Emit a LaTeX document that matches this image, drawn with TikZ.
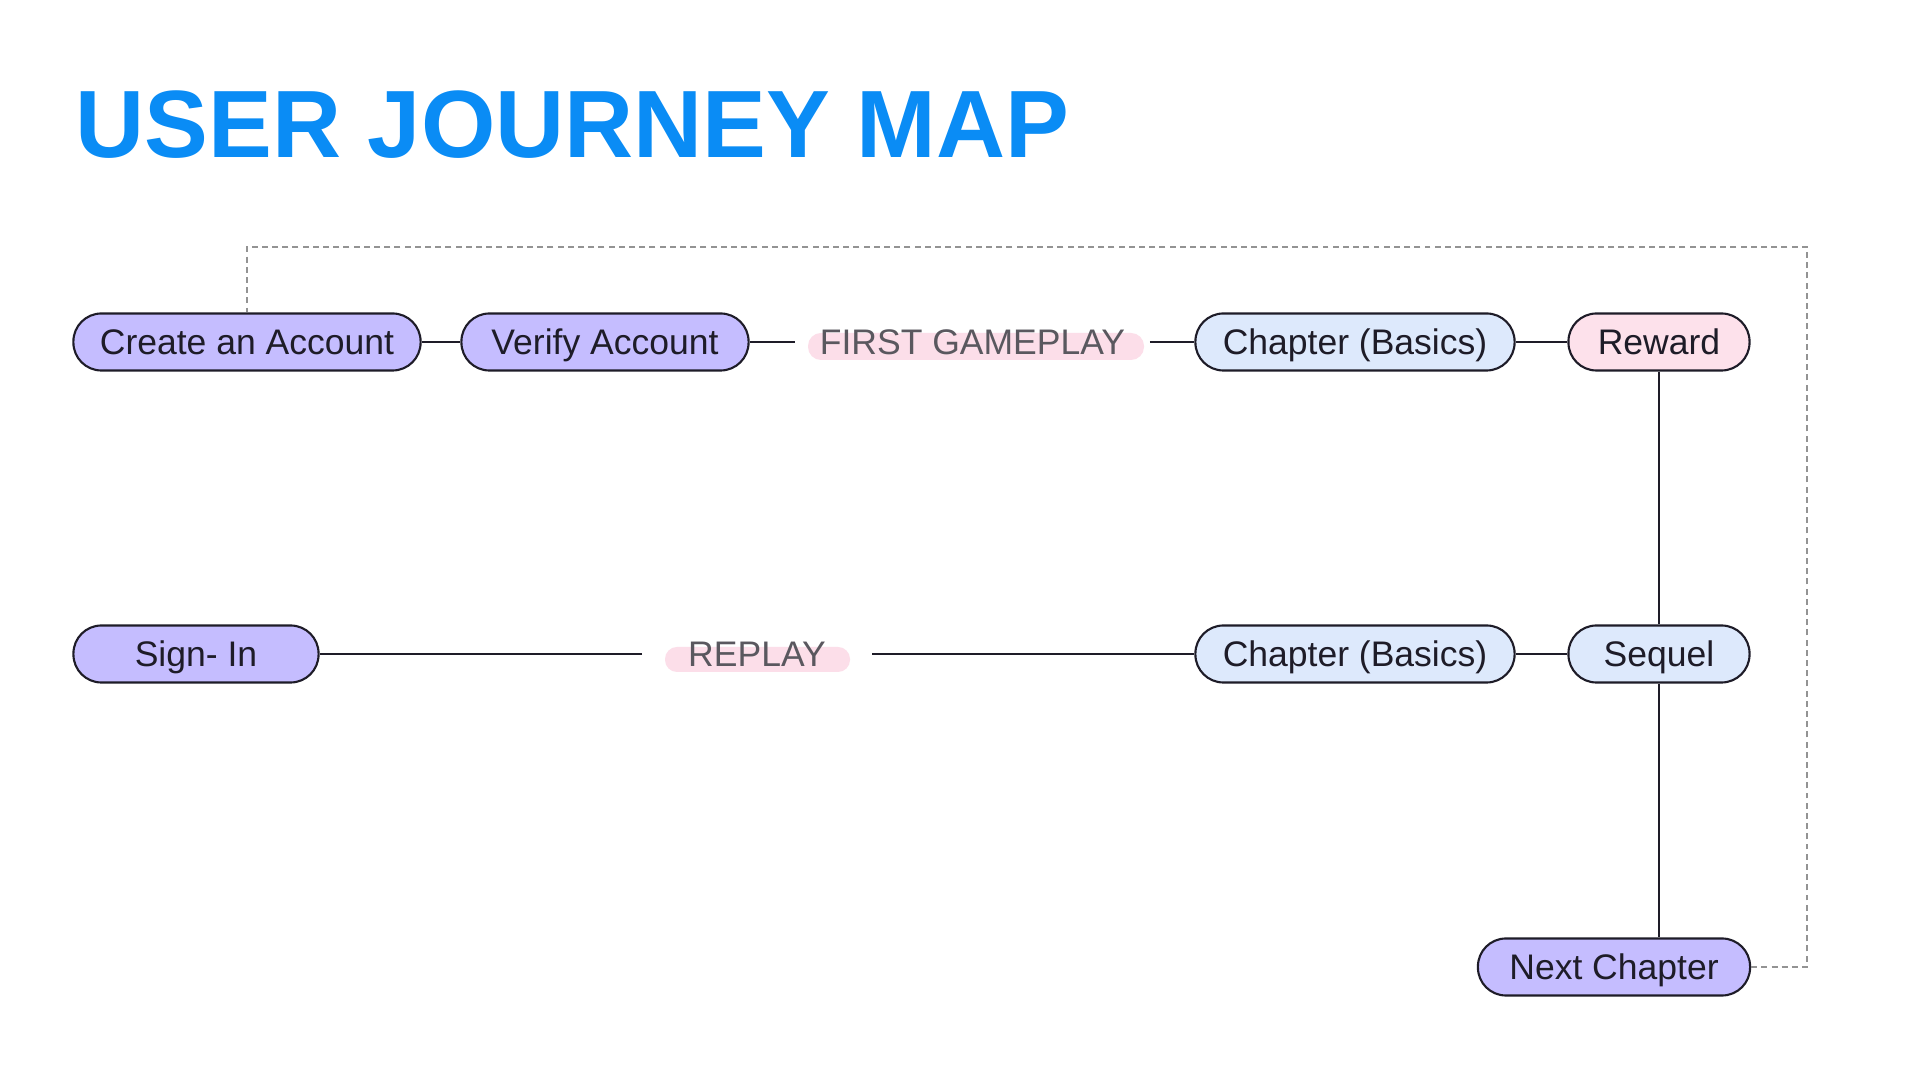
\documentclass[tikz,border=0pt]{standalone}
\usepackage{fontspec}
\setmainfont{Liberation Sans}
\usepackage{tikz}
\usetikzlibrary{calc}
\definecolor{titleblue}{RGB}{10,140,245}
\definecolor{lilac}{RGB}{197,189,255}
\definecolor{paleblue}{RGB}{221,233,252}
\definecolor{palepink}{RGB}{253,225,235}
\definecolor{hlpink}{RGB}{252,222,233}
\definecolor{ink}{RGB}{30,28,40}
\definecolor{taggray}{RGB}{90,88,95}

\begin{document}
\begin{tikzpicture}[x=0.01cm, y=-0.01cm,
  pill/.style={draw=ink, line width=0.6pt, rounded corners=0.28cm,
    minimum height=0.57cm, inner xsep=0pt, text height=0.254cm, text depth=0cm,
    font=\fontsize{10.1}{12}\selectfont, text=ink},
  tag/.style={inner sep=0pt, minimum height=0.57cm, text height=0.254cm, text depth=0cm,
    font=\fontsize{10.1}{12}\selectfont, text=taggray},
  link/.style={draw=ink, line width=0.5pt},
  loopback/.style={draw=gray!85, line width=0.5pt, dash pattern=on 1.7pt off 1.2pt}]

%---------------------------------------
% Page
%---------------------------------------
\fill[white] (0,0) rectangle (1920,1080);
\useasboundingbox (0,0) rectangle (1920,1080);

\def\xloop{1807}
\def\yloop{247}

\node[anchor=base west, inner sep=0pt, font=\fontsize{27.2}{30}\selectfont\bfseries,
  text=titleblue] (title) at (75,158) {USER JOURNEY MAP};

%---------------------------------------
% Highlights behind the stage labels
%---------------------------------------
\fill[hlpink, rounded corners=0.13cm] (808,333) rectangle (1144,360);
\fill[hlpink, rounded corners=0.12cm] (665,647) rectangle (850,672);

%---------------------------------------
% Top row
%---------------------------------------
\node[pill, fill=lilac, minimum width=3.47cm] (create) at (247,342) {Create an Account};
\node[pill, fill=lilac, minimum width=2.87cm] (verify) at (605,342) {Verify Account};
\node[tag, minimum width=3.53cm] (first) at (972.5,342) {FIRST GAMEPLAY};
\node[pill, fill=paleblue, minimum width=3.19cm] (chapA) at (1355,342) {Chapter (Basics)};
\node[pill, fill=palepink, minimum width=1.81cm] (reward) at (1659,342) {Reward};

%---------------------------------------
% Middle row
%---------------------------------------
\node[pill, fill=lilac, minimum width=2.45cm] (signin) at (196,654) {Sign- In};
\node[tag, minimum width=2.28cm] (replay) at (757,654) {REPLAY};
\node[pill, fill=paleblue, minimum width=3.19cm] (chapB) at (1355,654) {Chapter (Basics)};
\node[pill, fill=paleblue, minimum width=1.81cm] (sequel) at (1659,654) {Sequel};

% Bottom
\node[pill, fill=lilac, minimum width=2.72cm] (next) at (1614,967) {Next Chapter};

%---------------------------------------
% Connectors
%---------------------------------------
\draw[link] (create) -- (verify);
\draw[link] (verify) -- (first);
\draw[link] (first) -- (chapA);
\draw[link] (chapA) -- (reward);
\draw[link] (reward) -- (sequel);
\draw[link] (sequel) -- (chapB);
\draw[link] (chapB) -- (replay);
\draw[link] (replay) -- (signin);
\draw[link] (sequel.south) -- (sequel.south |- next.north);

% loop back to the start
\draw[loopback] (next.east) -| (\xloop,\yloop) -| (create.north);

\end{tikzpicture}
\end{document}
